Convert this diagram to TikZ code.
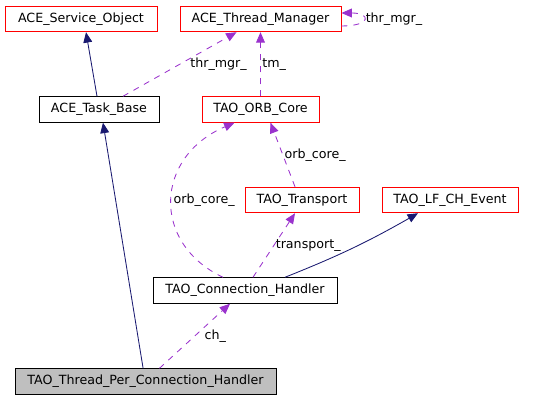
\documentclass[tikz,border=0pt]{standalone}
\usepackage{fontspec}
\setmainfont{DejaVu Sans}
\usetikzlibrary{arrows.meta}
\definecolor{usecolor}{HTML}{9A32CD}
\definecolor{basecolor}{HTML}{191970}

\begin{document}
\begin{tikzpicture}[
  my box/.style={
    draw=black,
    line width=0.6pt,
    minimum height=0.64cm,
    inner sep=0pt,
    font=\fontsize{9}{10}\selectfont,
  },
  my red box/.style={my box, draw=red},
  my base/.style={
    draw=basecolor,
    line width=0.6pt,
    -{Triangle[length=0.26cm,width=0.22cm]},
  },
  my use/.style={
    draw=usecolor,
    line width=0.6pt,
    dash pattern=on 0.15cm off 0.15cm,
    -{Triangle[length=0.26cm,width=0.22cm]},
    every node/.append style={font=\fontsize{9}{10}\selectfont, text=black, inner sep=1pt},
  }]
  \useasboundingbox (0,0) rectangle (13.4,10);
  \node[my red box, minimum width=3.8cm] (S) at (2.025,9.525) {ACE\_Service\_Object};
  \node[my red box, minimum width=4.025cm] (M) at (6.5125,9.525) {ACE\_Thread\_Manager};
  \node[my box, minimum width=3cm] (B) at (2.475,7.2625) {ACE\_Task\_Base};
  \node[my red box, minimum width=2.925cm] (O) at (6.5125,7.2625) {TAO\_ORB\_Core};
  \node[my red box, minimum width=2.85cm] (T) at (7.55,5) {TAO\_Transport};
  \node[my red box, minimum width=3.4cm] (E) at (11.25,5) {TAO\_LF\_CH\_Event};
  \node[my box, minimum width=4.6cm] (C) at (6.125,2.7375) {TAO\_Connection\_Handler};
  \node[my box, minimum width=6.525cm, fill=gray!50] (P) at (3.6375,0.4625) {TAO\_Thread\_Per\_Connection\_Handler};
  % inheritance
  \draw[my base] ([xshift=-0.05cm]B.north) -- ([xshift=0.125cm]S.south);
  \draw[my base] ([xshift=-0.06cm]P.north) -- ([xshift=0.1cm]B.south);
  \draw[my base] ([xshift=1cm]C.north) to[bend right=4] ([xshift=-0.8cm]E.south);
  % usage
  \draw[my use] ([xshift=0.6cm]B.north) -- node[right=0.22cm] {thr\_mgr\_} ([xshift=-0.6cm]M.south);
  \draw[my use] ([yshift=-0.175cm]M.east) .. controls +(0.75,0) and +(0.75,0) .. ([yshift=0.15cm]M.east) node[pos=0.5,right] {thr\_mgr\_};
  \draw[my use] (O.north) -- node[right] {tm\_} (M.south);
  \draw[my use] ([xshift=-0.175cm]T.north) -- node[right] {orb\_core\_} ([xshift=0.25cm]O.south);
  \draw[my use] ([xshift=-0.55cm]C.north) .. controls +(-1.8,0.85) and +(-2,-0.85) .. ([xshift=-0.65cm]O.south) node[pos=0.5,right] {orb\_core\_};
  \draw[my use] ([xshift=0.2cm]C.north) -- node[right] {transport\_} ([xshift=-0.175cm]T.south);
  \draw[my use] ([xshift=0.35cm]P.north) -- node[right=0.2cm] {ch\_} ([xshift=-0.375cm]C.south);
\end{tikzpicture}
\end{document}
